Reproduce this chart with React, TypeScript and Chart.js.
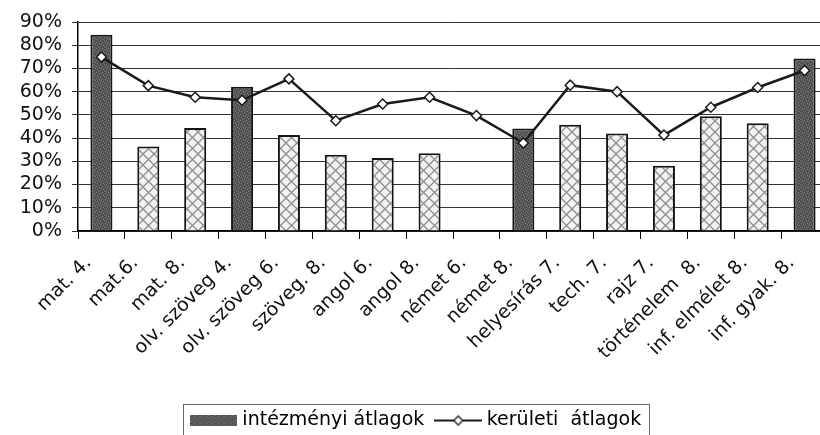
import React, { useEffect, useRef } from 'react';
import { Chart, registerables } from 'chart.js';

Chart.register(...registerables);

const categories = [
  'mat. 4.', 'mat.6.', 'mat. 8.', 'olv. szöveg 4.', 'olv. szöveg 6.', 'szöveg. 8.',
  'angol 6.', 'angol 8.', 'német 6.', 'német 8.', 'helyesírás 7.', 'tech. 7.',
  'rajz 7.', 'történelem  8.', 'inf. elmélet 8.', 'inf. gyak. 8.',
];
const intezmenyi: (number | null)[] = [84.5, 36.4, 44.4, 62.1, 41.3, 32.8, 31.4, 33.5, null, 44.1, 45.7, 42.0, 28.1, 49.4, 46.4, 74.3];
const keruleti = [74.9, 62.6, 57.6, 56.3, 65.5, 47.5, 54.7, 57.6, 49.7, 37.9, 62.8, 60.0, 41.3, 53.3, 61.8, 69.1];
const darkBar = [true, false, false, true, false, false, false, false, false, true, false, false, false, false, false, true];
const seriesNames = ['intézményi átlagok', 'kerületi  átlagok'];
const yMin = 0;
const yMax = 90;
const yStep = 10;

const FONT = { family: "'DejaVu Sans', sans-serif", size: 19 };

function darkTile(): HTMLCanvasElement {
  const c = document.createElement('canvas');
  c.width = 6; c.height = 6;
  const g = c.getContext('2d')!;
  g.fillStyle = '#565656';
  g.fillRect(0, 0, 6, 6);
  g.fillStyle = '#7e7e7e';
  [[0, 0], [3, 1], [1, 3], [4, 4], [2, 5], [5, 2]].forEach(([x, y]) => g.fillRect(x, y, 1, 1));
  g.fillStyle = '#404040';
  [[2, 0], [5, 4], [0, 2], [3, 3], [1, 5]].forEach(([x, y]) => g.fillRect(x, y, 1, 1));
  return c;
}

function hatchTile(): HTMLCanvasElement {
  const c = document.createElement('canvas');
  c.width = 11; c.height = 11;
  const g = c.getContext('2d')!;
  g.fillStyle = '#f2f2f2';
  g.fillRect(0, 0, 11, 11);
  g.strokeStyle = '#8e8e8e';
  g.lineWidth = 1.3;
  g.beginPath();
  g.moveTo(0, 0); g.lineTo(11, 11);
  g.moveTo(11, 0); g.lineTo(0, 11);
  g.stroke();
  return c;
}

function barSwatch(): HTMLCanvasElement {
  const c = document.createElement('canvas');
  c.width = 47; c.height = 11;
  const g = c.getContext('2d')!;
  const p = g.createPattern(darkTile(), 'repeat')!;
  g.fillStyle = p;
  g.fillRect(0, 0, 47, 11);
  return c;
}

function lineSwatch(): HTMLCanvasElement {
  const c = document.createElement('canvas');
  c.width = 48; c.height = 14;
  const g = c.getContext('2d')!;
  g.strokeStyle = '#1a1a1a';
  g.lineWidth = 2.2;
  g.beginPath();
  g.moveTo(0, 7); g.lineTo(48, 7);
  g.stroke();
  g.beginPath();
  g.moveTo(24, 2.5); g.lineTo(28.5, 7); g.lineTo(24, 11.5); g.lineTo(19.5, 7); g.closePath();
  g.fillStyle = '#fff';
  g.fill();
  g.lineWidth = 1.3;
  g.stroke();
  return c;
}

const legendBorder = {
  id: 'legendBorder',
  afterDraw(chart: any) {
    const lg = chart.legend;
    if (!lg || !lg.legendHitBoxes || lg.legendHitBoxes.length < 2) return;
    const hb = lg.legendHitBoxes;
    const first = hb[0];
    const last = hb[hb.length - 1];
    const left = Math.round(first.left - 11.5) + 0.5;
    const right = Math.round(last.left + last.width + 7.5) + 0.5;
    const top = Math.round(first.top - 7.5) + 0.5;
    const bottom = Math.round(first.top + first.height + 8) + 0.5;
    const ctx = chart.ctx;
    ctx.save();
    ctx.strokeStyle = '#666';
    ctx.lineWidth = 1;
    ctx.strokeRect(left, top, right - left, bottom - top);
    ctx.restore();
  },
};

export default function App() {
  const ref = useRef<HTMLCanvasElement | null>(null);

  useEffect(() => {
    const canvas = ref.current!;
    const ctx = canvas.getContext('2d')!;
    const darkPattern = ctx.createPattern(darkTile(), 'repeat')!;
    const hatchPattern = ctx.createPattern(hatchTile(), 'repeat')!;
    const barImg = barSwatch();
    const lineImg = lineSwatch();

    const chart = new Chart(canvas, {
      type: 'bar',
      data: {
        labels: categories,
        datasets: [
          {
            type: 'bar',
            label: seriesNames[0],
            data: intezmenyi,
            backgroundColor: darkBar.map((d) => (d ? darkPattern : hatchPattern)) as any,
            borderColor: '#151515',
            borderWidth: 2,
            barPercentage: 0.47,
            categoryPercentage: 1,
            order: 1,
          } as any,
          {
            type: 'line',
            label: seriesNames[1],
            data: keruleti,
            borderColor: '#1a1a1a',
            borderWidth: 2.5,
            pointStyle: 'rectRot',
            pointRadius: 5,
            pointBackgroundColor: '#ffffff',
            pointBorderColor: '#1a1a1a',
            pointBorderWidth: 1.5,
            tension: 0,
            order: 0,
          } as any,
        ],
      },
      options: {
        animation: false,
        responsive: false,
        devicePixelRatio: 1,
        layout: { padding: { top: 22, left: 8, right: 8, bottom: 0 } },
        scales: {
          x: {
            offset: true,
            grid: {
              offset: true,
              drawOnChartArea: false,
              drawTicks: true,
              tickLength: 8,
              color: '#000',
              lineWidth: 1,
            },
            border: { display: true, color: '#000', width: 1.5 },
            ticks: {
              autoSkip: false,
              maxRotation: 45,
              minRotation: 45,
              padding: 13,
              labelOffset: -13,
              color: '#111',
              font: FONT,
            },
            afterFit: (s: any) => { s.height = 165; },
          },
          y: {
            min: yMin,
            max: yMax,
            ticks: {
              stepSize: yStep,
              autoSkip: false,
              padding: 10,
              color: '#111',
              font: FONT,
              callback: (v: any) => `${v}%`,
            },
            grid: { color: '#333333', lineWidth: 1, tickLength: 6, drawTicks: true },
            border: { display: true, color: '#000', width: 1.5 },
            afterFit: (s: any) => { s.width = 70; },
          },
        },
        plugins: {
          tooltip: { enabled: false },
          legend: {
            position: 'bottom',
            labels: {
              usePointStyle: true,
              pointStyleWidth: 38,
              padding: 15,
              color: '#111',
              font: FONT,
              generateLabels: () => [
                { text: seriesNames[0], pointStyle: barImg, fillStyle: '#5a5a5a', strokeStyle: '#000', lineWidth: 0, hidden: false, datasetIndex: 0 } as any,
                { text: seriesNames[1], pointStyle: lineImg, fillStyle: '#fff', strokeStyle: '#000', lineWidth: 0, hidden: false, datasetIndex: 1 } as any,
              ],
            },
          },
        },
      },
      plugins: [legendBorder],
    });
    return () => chart.destroy();
  }, []);

  return (
    <div style={{ position: 'fixed', left: 0, top: 0, width: 820, height: 435, overflow: 'hidden', background: '#fff' }}>
      <canvas ref={ref} width={836} height={440} style={{ display: 'block', width: 836, height: 440 }} />
    </div>
  );
}
